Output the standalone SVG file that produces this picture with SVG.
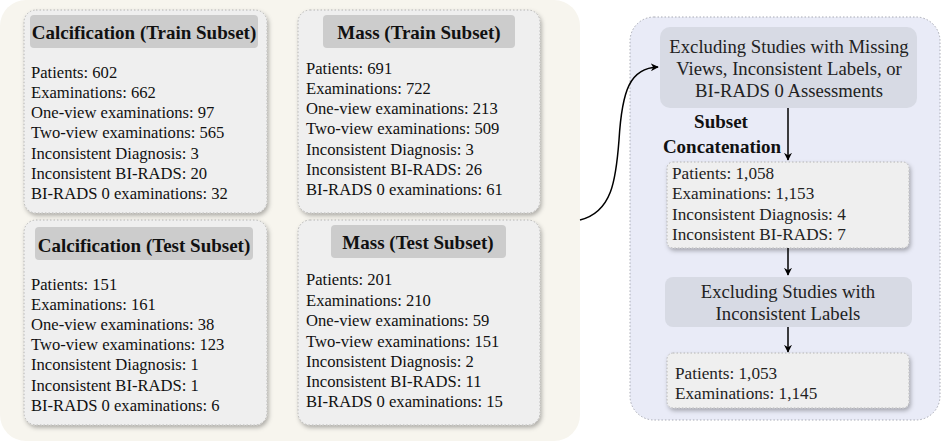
<svg xmlns="http://www.w3.org/2000/svg" width="947" height="446" viewBox="0 0 947 446">
<defs>
<filter id="sh" x="-10%" y="-10%" width="125%" height="125%">
<feDropShadow dx="1.5" dy="2.5" stdDeviation="2" flood-color="#000" flood-opacity="0.3"/>
</filter>
<marker id="arr" viewBox="0 0 10 10" refX="9" refY="5" markerWidth="8" markerHeight="8" orient="auto" markerUnits="userSpaceOnUse">
<path d="M0,0 L10,5 L0,10 L3,5 z" fill="#000"/>
</marker>
</defs>
<style>
.card{fill:#efefef;stroke:#b5b5b5;stroke-width:1;stroke-dasharray:1.5 2;filter:url(#sh)}
.ttl{fill:#cccccc}
.tt{font-family:"Liberation Serif",serif;font-weight:bold;font-size:19px;fill:#111;text-anchor:middle}
.bt{font-family:"Liberation Serif",serif;font-size:16.6px;fill:#111}
.bb{font-family:"Liberation Serif",serif;font-size:17.2px;fill:#222}
.st{font-family:"Liberation Serif",serif;font-size:18.7px;fill:#222;text-anchor:middle}
.step{fill:#d7dae4}
.lbl{font-family:"Liberation Serif",serif;font-weight:bold;font-size:19px;fill:#111;text-anchor:middle}
.conn{fill:none;stroke:#000;stroke-width:1.5;marker-end:url(#arr)}
</style>
<rect x="0" y="0" width="580" height="441" rx="26" fill="#f7f5ee"/>
<rect x="630" y="17" width="310" height="403" rx="24" fill="#e9ebf7" stroke="#a9abb5" stroke-width="1" stroke-dasharray="1.5 2"/>

<g id="calc-train">
<rect class="card" x="24" y="10" width="243" height="203" rx="12"/>
<rect class="ttl" x="30" y="15" width="228" height="33" rx="4"/>
<text class="tt" x="144" y="38.5">Calcification (Train Subset)</text>
<text class="bt" x="31" y="78">Patients: 602</text>
<text class="bt" x="31" y="98">Examinations: 662</text>
<text class="bt" x="31" y="118">One-view examinations: 97</text>
<text class="bt" x="31" y="138">Two-view examinations: 565</text>
<text class="bt" x="31" y="159">Inconsistent Diagnosis: 3</text>
<text class="bt" x="31" y="179">Inconsistent BI-RADS: 20</text>
<text class="bt" x="31" y="199">BI-RADS 0 examinations: 32</text>
</g>

<g id="mass-train">
<rect class="card" x="298" y="10" width="242" height="203" rx="12"/>
<rect class="ttl" x="323" y="15" width="192" height="33" rx="4"/>
<text class="tt" x="419" y="38.5">Mass (Train Subset)</text>
<text class="bt" x="306" y="74">Patients: 691</text>
<text class="bt" x="306" y="94">Examinations: 722</text>
<text class="bt" x="306" y="114">One-view examinations: 213</text>
<text class="bt" x="306" y="134">Two-view examinations: 509</text>
<text class="bt" x="306" y="155">Inconsistent Diagnosis: 3</text>
<text class="bt" x="306" y="175">Inconsistent BI-RADS: 26</text>
<text class="bt" x="306" y="195">BI-RADS 0 examinations: 61</text>
</g>

<g id="calc-test">
<rect class="card" x="24" y="220" width="243" height="205" rx="12"/>
<rect class="ttl" x="35" y="227" width="218" height="33" rx="4"/>
<text class="tt" x="144" y="251.5">Calcification (Test Subset)</text>
<text class="bt" x="31" y="290">Patients: 151</text>
<text class="bt" x="31" y="310">Examinations: 161</text>
<text class="bt" x="31" y="330">One-view examinations: 38</text>
<text class="bt" x="31" y="350">Two-view examinations: 123</text>
<text class="bt" x="31" y="370">Inconsistent Diagnosis: 1</text>
<text class="bt" x="31" y="391">Inconsistent BI-RADS: 1</text>
<text class="bt" x="31" y="411">BI-RADS 0 examinations: 6</text>
</g>

<g id="mass-test">
<rect class="card" x="298" y="220" width="242" height="205" rx="12"/>
<rect class="ttl" x="331" y="225" width="175" height="33" rx="4"/>
<text class="tt" x="418" y="248.5">Mass (Test Subset)</text>
<text class="bt" x="306" y="285">Patients: 201</text>
<text class="bt" x="306" y="306">Examinations: 210</text>
<text class="bt" x="306" y="326">One-view examinations: 59</text>
<text class="bt" x="306" y="347">Two-view examinations: 151</text>
<text class="bt" x="306" y="367">Inconsistent Diagnosis: 2</text>
<text class="bt" x="306" y="387">Inconsistent BI-RADS: 11</text>
<text class="bt" x="306" y="407">BI-RADS 0 examinations: 15</text>
</g>

<g id="exclude1">
<rect class="step" x="660" y="27" width="257" height="81" rx="10"/>
<text class="st" x="789" y="53">Excluding Studies with Missing</text>
<text class="st" x="789" y="75">Views, Inconsistent Labels, or</text>
<text class="st" x="789" y="97">BI-RADS 0 Assessments</text>
</g>

<g id="concat">
<rect class="card" x="667" y="162" width="242" height="86" rx="6"/>
<text class="bb" x="672" y="178.5">Patients: 1,058</text>
<text class="bb" x="672" y="199">Examinations: 1,153</text>
<text class="bb" x="672" y="219.5">Inconsistent Diagnosis: 4</text>
<text class="bb" x="672" y="240">Inconsistent BI-RADS: 7</text>
</g>

<g id="exclude2">
<rect class="step" x="665" y="277" width="247" height="50" rx="8"/>
<text class="st" x="788" y="297.5">Excluding Studies with</text>
<text class="st" x="788" y="319.5">Inconsistent Labels</text>
</g>

<g id="final">
<rect class="card" x="667" y="353" width="242" height="55" rx="6"/>
<text class="bb" x="675" y="378.5">Patients: 1,053</text>
<text class="bb" x="675" y="399">Examinations: 1,145</text>
</g>

<g id="connectors">
<path class="conn" d="M580,220 C612,212 616,180 619,140 C622,90 630,68 658,67"/>
<path class="conn" d="M788,108 L788,160"/>
<text class="lbl" x="721" y="128">Subset</text>
<text class="lbl" x="722" y="153">Concatenation</text>
<path class="conn" d="M788,248 L788,275"/>
<path class="conn" d="M788,327 L788,352"/>
</g>
</svg>
